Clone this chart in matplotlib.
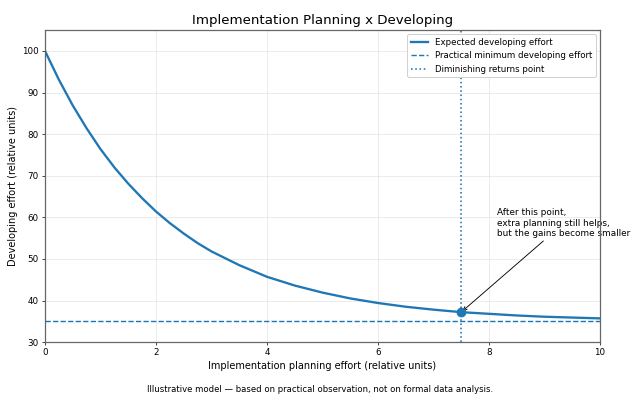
import matplotlib
matplotlib.use("Agg")
import matplotlib.pyplot as plt

# Data
planning_effort = [0, 0.25, 0.5, 0.75, 1, 1.25, 1.5, 1.75, 2, 2.25, 2.5, 2.75, 3,
                   3.5, 4, 4.5, 5, 5.5, 6, 6.5, 7, 7.5, 8, 8.5, 9, 9.5, 10]
developing_effort = [100, 93.1, 86.9, 81.4, 76.4, 72.0, 68.1, 64.6, 61.4, 58.6,
                     56.1, 53.8, 51.8, 48.5, 45.7, 43.6, 41.9, 40.5, 39.4, 38.5,
                     37.8, 37.2, 36.8, 36.4, 36.1, 35.9, 35.7]
minimum_effort = 35
diminishing_x = 7.5
diminishing_y = 37.2

title = "Implementation Planning x Developing"
xlabel = "Implementation planning effort (relative units)"
ylabel = "Developing effort (relative units)"
footer = "Illustrative model \u2014 based on practical observation, not on formal data analysis."
note = "After this point,\nextra planning still helps,\nbut the gains become smaller"

blue = "#1f77b4"

fig, ax = plt.subplots(figsize=(10, 6.28125), dpi=64)
fig.subplots_adjust(left=0.0703, right=0.9375, top=0.925, bottom=0.149)

ax.plot(planning_effort, developing_effort, color=blue, lw=2.6,
        label="Expected developing effort")
ax.axhline(minimum_effort, color=blue, lw=1.6, ls="--",
           label="Practical minimum developing effort")
ax.axvline(diminishing_x, color=blue, lw=1.8, ls=":",
           label="Diminishing returns point")
ax.plot([diminishing_x], [diminishing_y], "o", color=blue, ms=10, zorder=5)

ax.annotate(note, xy=(diminishing_x, diminishing_y), xytext=(8.15, 58.6),
            ha="left", va="center", fontsize=10, zorder=2,
            arrowprops=dict(arrowstyle="->", color="black", lw=1.0))

ax.set_xlim(0, 10)
ax.set_ylim(30, 105)
ax.set_xticks([0, 2, 4, 6, 8, 10])
ax.set_yticks([30, 40, 50, 60, 70, 80, 90, 100])
ax.grid(True, color="#dddddd", lw=0.8, alpha=0.8)
for s in ax.spines.values():
    s.set_color("#666666")
    s.set_linewidth(1.4)
ax.tick_params(colors="#333333", labelcolor="black", width=1.0, labelsize=9.8)

ax.set_title(title, fontsize=15, pad=7)
ax.set_xlabel(xlabel, fontsize=11)
ax.set_ylabel(ylabel, fontsize=11)
ax.legend(loc="upper right", fontsize=9.7, framealpha=1.0)

fig.text(0.5, 0.03, footer, ha="center", va="center", fontsize=9.5)

fig.savefig("out.png", dpi=64)
